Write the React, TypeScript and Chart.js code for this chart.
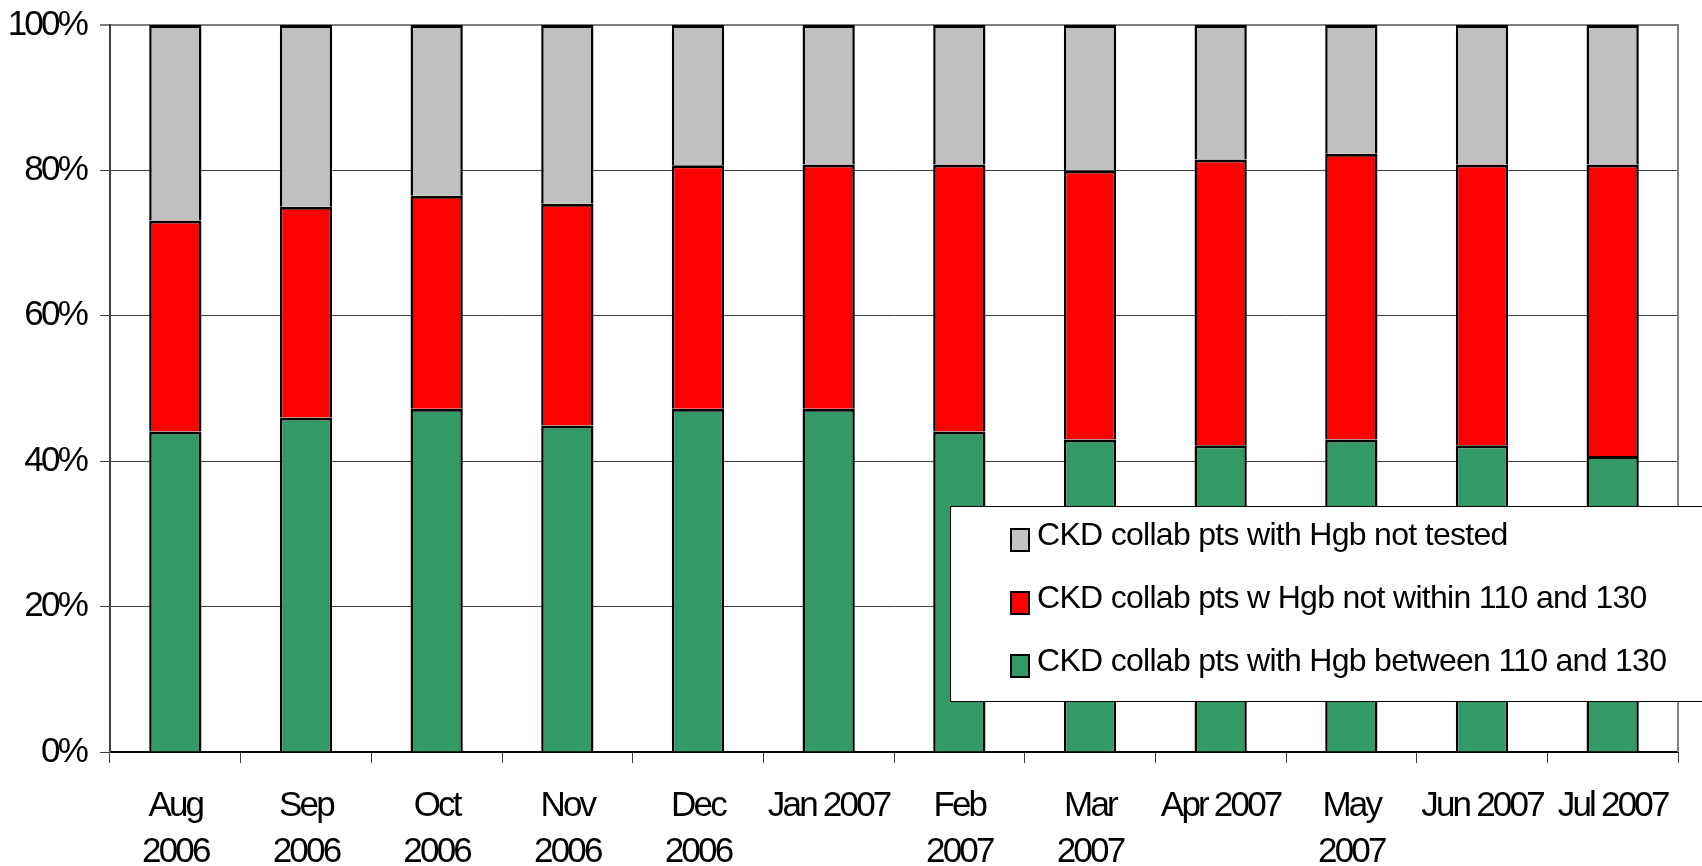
import React, { useEffect, useRef } from 'react';
import { Chart, registerables } from 'chart.js';

Chart.register(...registerables);

// ---- data ----
const categories: (string | string[])[] = [
  ['Aug', '2006'], ['Sep', '2006'], ['Oct', '2006'], ['Nov', '2006'], ['Dec', '2006'],
  'Jan 2007', ['Feb', '2007'], ['Mar', '2007'], 'Apr 2007', ['May', '2007'], 'Jun 2007', 'Jul 2007',
];
const betweenValues = [44.1, 46.0, 47.2, 44.9, 47.2, 47.2, 44.1, 43.0, 42.2, 43.0, 42.2, 40.7];
const notWithinValues = [29.0, 29.0, 29.3, 30.5, 33.5, 33.6, 36.7, 37.0, 39.3, 39.3, 38.6, 40.1];
const notTestedValues = [26.9, 25.0, 23.5, 24.6, 19.3, 19.2, 19.2, 20.0, 18.5, 17.7, 19.2, 19.2];
const seriesLabels = [
  'CKD collab pts with Hgb between 110 and 130',
  'CKD collab pts w Hgb not within 110 and 130',
  'CKD collab pts with Hgb not tested',
];
const seriesColors = ['#339966', '#FF0000', '#C0C0C0'];
const yTickStep = 20;

const FONT = '"Liberation Sans", Arial, sans-serif';
const TICK_SPACING = '-2.8px';

const spacingPlugin = {
  id: 'spacing',
  beforeUpdate(chart: any) { chart.ctx.letterSpacing = TICK_SPACING; },
  beforeDraw(chart: any) { chart.ctx.letterSpacing = TICK_SPACING; },
};

const borderPlugin = {
  id: 'plotBorder',
  beforeDatasetsDraw(chart: any) {
    const { ctx, chartArea } = chart;
    ctx.save();
    ctx.strokeStyle = '#808080';
    ctx.lineWidth = 2;
    ctx.beginPath();
    ctx.moveTo(chartArea.right, chartArea.top - 1);
    ctx.lineTo(chartArea.right, chartArea.bottom);
    ctx.stroke();
    ctx.restore();
  },
};

const legendPlugin = {
  id: 'boxLegend',
  afterDatasetsDraw(chart: any) {
    const { ctx } = chart;
    const left = 950.5, top = 506.5, bottom = 701.5, right = chart.width + 10;
    ctx.save();
    ctx.fillStyle = '#ffffff';
    ctx.fillRect(left, top, right - left, bottom - top);
    ctx.strokeStyle = '#000000';
    ctx.lineWidth = 1;
    ctx.strokeRect(left, top, right - left, bottom - top);
    const ds = chart.data.datasets;
    const order = [2, 1, 0];
    order.forEach((di, i) => {
      const d = ds[di];
      const my = 528 + 63 * i;
      ctx.fillStyle = d.backgroundColor;
      ctx.fillRect(1010, my, 20, 24);
      ctx.strokeStyle = '#000';
      ctx.lineWidth = 2;
      ctx.strokeRect(1011, my + 1, 18, 22);
      ctx.fillStyle = '#000';
      ctx.font = `32px ${FONT}`;
      ctx.letterSpacing = '-0.7px';
      ctx.textBaseline = 'alphabetic';
      ctx.textAlign = 'left';
      ctx.fillText(d.label, 1037, 545 + 63 * i);
    });
    ctx.restore();
  },
};

export default function App() {
  const ref = useRef<HTMLCanvasElement>(null);
  useEffect(() => {
    const chart = new Chart(ref.current as HTMLCanvasElement, {
      type: 'bar',
      data: {
        labels: categories,
        datasets: [
          { label: seriesLabels[0], data: betweenValues, backgroundColor: seriesColors[0] },
          { label: seriesLabels[1], data: notWithinValues, backgroundColor: seriesColors[1] },
          { label: seriesLabels[2], data: notTestedValues, backgroundColor: seriesColors[2] },
        ].map((d) => ({
          ...d,
          borderColor: '#000000',
          borderWidth: { top: 3, left: 2.5, right: 2.5, bottom: 0 },
          barPercentage: 0.4,
          categoryPercentage: 1.0,
        })),
      },
      options: {
        animation: false,
        responsive: false,
        devicePixelRatio: 1,
        layout: { padding: { left: 0, top: 25, right: 24, bottom: 0 } },
        plugins: { legend: { display: false }, tooltip: { enabled: false } },
        scales: {
          x: {
            stacked: true,
            offset: true,
            grid: {
              offset: true,
              drawOnChartArea: false,
              drawTicks: true,
              tickLength: 11,
              color: '#404040',
              lineWidth: 1,
            },
            border: { display: true, color: '#000000', width: 2 },
            ticks: {
              autoSkip: false,
              maxRotation: 0,
              minRotation: 0,
              padding: 20,
              color: '#000000',
              font: { family: FONT, size: 35, lineHeight: 1.32 },
            },
            afterFit(scale: any) {
              scale.height = 114;
              scale.paddingLeft = 0;
              scale.paddingRight = 0;
            },
          },
          y: {
            stacked: true,
            min: 0,
            max: 100,
            grid: {
              drawTicks: true,
              tickLength: 10,
              color: (c: any) => (c.tick && c.tick.value === 100 ? '#808080' : '#404040'),
              lineWidth: (c: any) => (c.tick && c.tick.value === 100 ? 2 : 1),
            },
            border: { display: true, color: '#404040', width: 2 },
            ticks: {
              stepSize: yTickStep,
              padding: 14,
              color: '#000000',
              font: { family: FONT, size: 35, lineHeight: 1.2 },
              callback: (v: any) => `${v}%`,
            },
            afterFit(scale: any) {
              scale.width = 110;
              scale.paddingTop = 0;
              scale.paddingBottom = 0;
            },
          },
        },
      },
      plugins: [spacingPlugin, borderPlugin, legendPlugin],
    } as any);
    return () => chart.destroy();
  }, []);
  return (
    <div style={{ position: 'absolute', left: 0, top: 0, width: 1702, height: 866, background: '#fff', overflow: 'hidden' }}>
      <canvas ref={ref} width={1702} height={866} style={{ display: 'block', width: 1702, height: 866 }} />
    </div>
  );
}
